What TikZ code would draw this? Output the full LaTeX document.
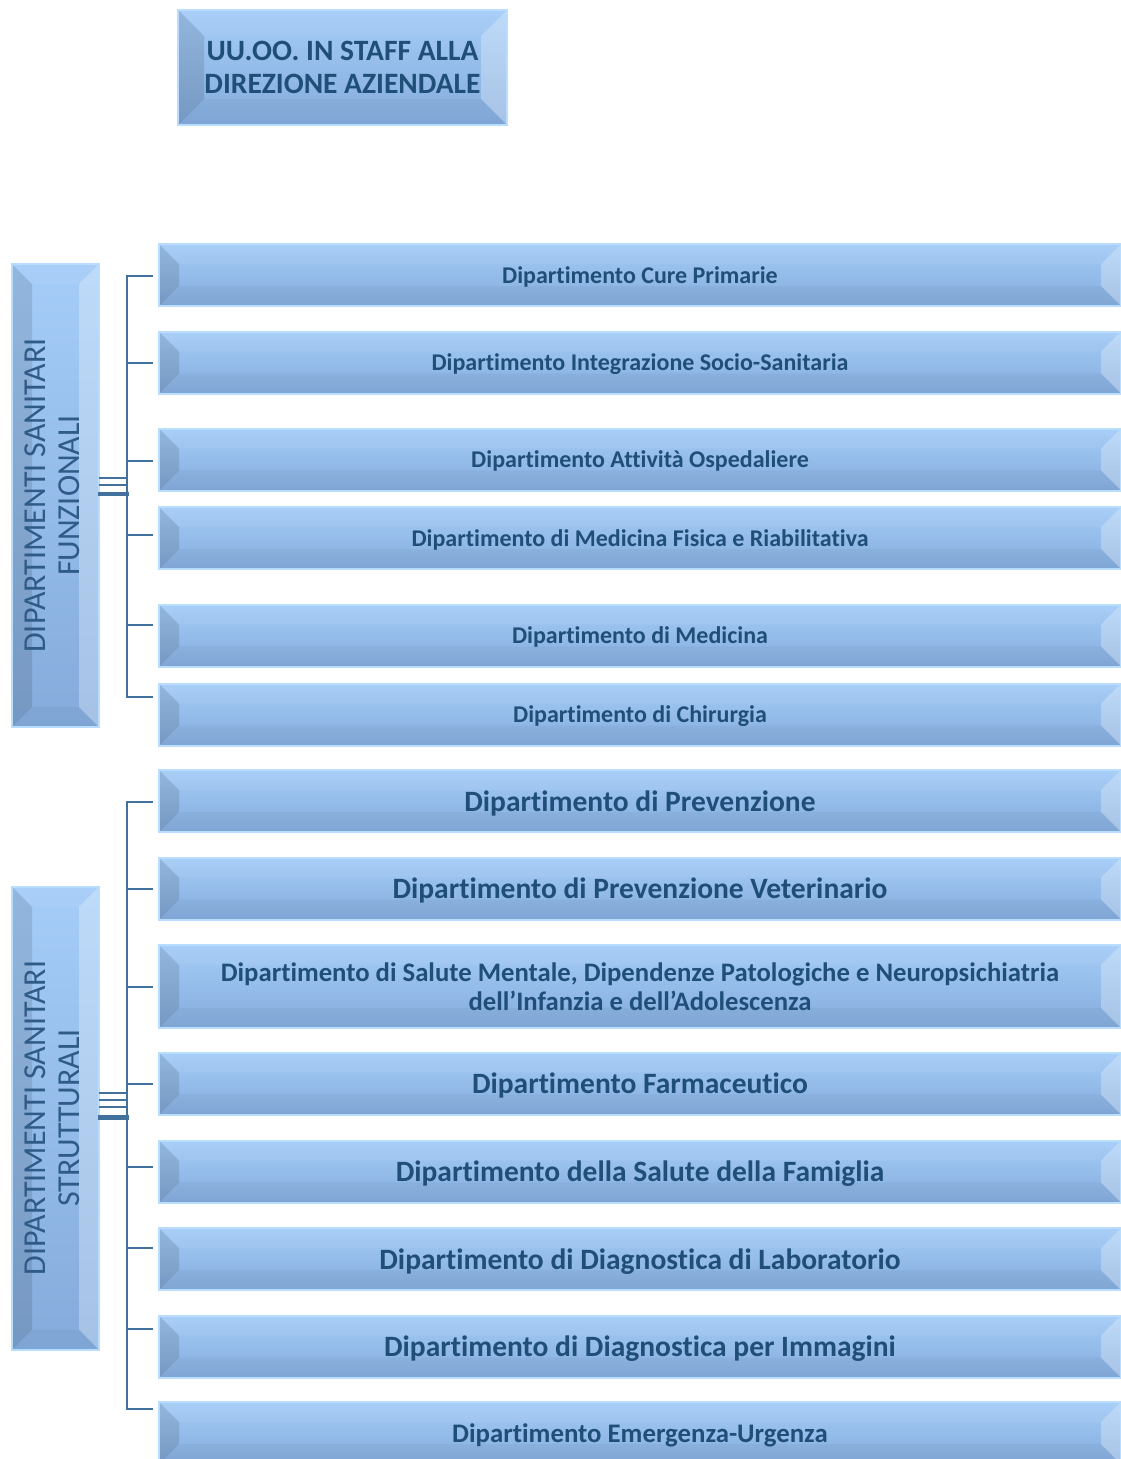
\documentclass[tikz,border=0pt]{standalone}
\usepackage{fontspec}
\setmainfont{Carlito}[Ligatures=NoCommon]

\definecolor{facetop}{HTML}{A5CDF8}
\definecolor{facebot}{HTML}{84ABDB}
\definecolor{glow}{HTML}{B9DDFF}
\definecolor{depttext}{HTML}{1F4E79}
\definecolor{sidetext}{HTML}{2F5B88}
\definecolor{linkblue}{HTML}{41719C}

\newcommand\ppb{path picture bounding box}

\tikzset{
  bevelbox/.style={draw=glow, line width=2pt, top color=facetop, bottom color=facebot,
    inner sep=0pt, align=center, text=depttext,
    path picture={
      % top and right faces catch the light, left and bottom are in shade
      \fill[white,opacity=.05] (\ppb.north west) -- ++(#1,-#1) -- ([shift={(-#1,-#1)}]\ppb.north east) -- (\ppb.north east) -- cycle;
      \fill[white,opacity=.28] (\ppb.north east) -- ++(-#1,-#1) -- ([shift={(-#1,#1)}]\ppb.south east) -- (\ppb.south east) -- cycle;
      \fill[black,opacity=.11] (\ppb.north west) -- ++(#1,-#1) -- ([shift={(#1,#1)}]\ppb.south west) -- (\ppb.south west) -- cycle;
      \fill[black,opacity=.03] (\ppb.south west) -- ++(#1,#1) -- ([shift={(-#1,#1)}]\ppb.south east) -- (\ppb.south east) -- cycle;
    }},
  bevelbox/.default=20pt,
  bar/.style={bevelbox, minimum width=962pt, minimum height=62pt},
  smallbar/.style={bar, text depth=0pt, font=\bfseries\fontsize{24}{28}\selectfont},
  bigbar/.style={bar, text depth=0pt, font=\bfseries\fontsize{29.5}{33}\selectfont},
  side/.style={bevelbox, minimum width=87pt, minimum height=463pt, text=sidetext,
    font=\fontsize{32}{34}\selectfont},
  link/.style={draw=linkblue, line width=2.6pt, line cap=rect},
}

\begin{document}
\begin{tikzpicture}[x=1pt,y=-1pt]
\useasboundingbox (0,0) rectangle (1121,1459);

\node[bevelbox=26pt, minimum width=329pt, minimum height=115pt,
  font=\bfseries\fontsize{29.5}{33}\selectfont] (staff) at (342.5,67.5)
  {UU.OO. IN STAFF ALLA\\DIREZIONE AZIENDALE};

% the two side columns
\node[side] (funz) at (55.5,495.5)
  {\rotatebox{90}{\begin{tabular}{@{}c@{}}DIPARTIMENTI SANITARI\\FUNZIONALI\end{tabular}}};
\node[side] (strut) at (55.5,1118)
  {\rotatebox{90}{\begin{tabular}{@{}c@{}}DIPARTIMENTI SANITARI\\STRUTTURALI\end{tabular}}};

% functional departments
\foreach \n/\y/\t in {cure/275/Dipartimento Cure Primarie,
    integ/362.5/Dipartimento Integrazione Socio-Sanitaria,
    osp/459.5/Dipartimento Attività Ospedaliere,
    riab/538/Dipartimento di Medicina Fisica e Riabilitativa,
    med/635.5/Dipartimento di Medicina,
    chir/714.5/Dipartimento di Chirurgia}
  \node[smallbar] (\n) at (640,\y) {\t};

% structural departments
\foreach \n/\y/\t in {prev/801/Dipartimento di Prevenzione,
    vet/888.5/Dipartimento di Prevenzione Veterinario,
    farm/1083.5/Dipartimento Farmaceutico,
    fam/1171.5/Dipartimento della Salute della Famiglia,
    lab/1259/Dipartimento di Diagnostica di Laboratorio,
    img/1346.5/Dipartimento di Diagnostica per Immagini}
  \node[bigbar] (\n) at (640,\y) {\t};
\node[bar, minimum height=83pt, font=\bfseries\fontsize{26.7}{29}\selectfont] (ment) at (640,986.5)
  {Dipartimento di Salute Mentale, Dipendenze Patologiche e Neuropsichiatria\\dell’Infanzia e dell’Adolescenza};
\node[bar, text depth=0pt, font=\bfseries\fontsize{26.8}{29}\selectfont] (emerg) at (640,1433)
  {Dipartimento Emergenza-Urgenza};

% connectors
\coordinate (fbus) at (127,0);
\coordinate (sbus) at (127,0);

\foreach \n/\dy in {cure/-1,integ/-0.5,osp/-1.5,riab/3,med/10.5,chir/17.5}
  \draw[link] ([xshift=-6pt,yshift=\dy pt]\n.west) -- ([yshift=\dy pt]\n.west -| fbus);
\draw[link] ([yshift=-1pt]cure.west -| fbus) -- ([yshift=17.5pt]chir.west -| fbus);

\foreach \n/\dy in {prev/-1,vet/-0.5,ment/-0.5,farm/-0.5,fam/4.5,lab/11,img/17.5,emerg/24}
  \draw[link] ([xshift=-6pt,yshift=\dy pt]\n.west) -- ([yshift=\dy pt]\n.west -| sbus);
\draw[link] ([yshift=-1pt]prev.west -| sbus) -- ([yshift=24pt]emerg.west -| sbus);

\foreach \dy in {17.5,10.5}
  \draw[link, line width=1.8pt] ([yshift=\dy pt]funz.east) -- ([yshift=\dy pt]funz.east -| fbus);
\draw[link, line width=4.5pt] ([yshift=1.5pt]funz.east) -- ([yshift=1.5pt]funz.east -| fbus);

\foreach \dy in {25,18,11}
  \draw[link, line width=1.8pt] ([yshift=\dy pt]strut.east) -- ([yshift=\dy pt]strut.east -| sbus);
\draw[link, line width=4.5pt] ([yshift=0.5pt]strut.east) -- ([yshift=0.5pt]strut.east -| sbus);
\end{tikzpicture}
\end{document}
